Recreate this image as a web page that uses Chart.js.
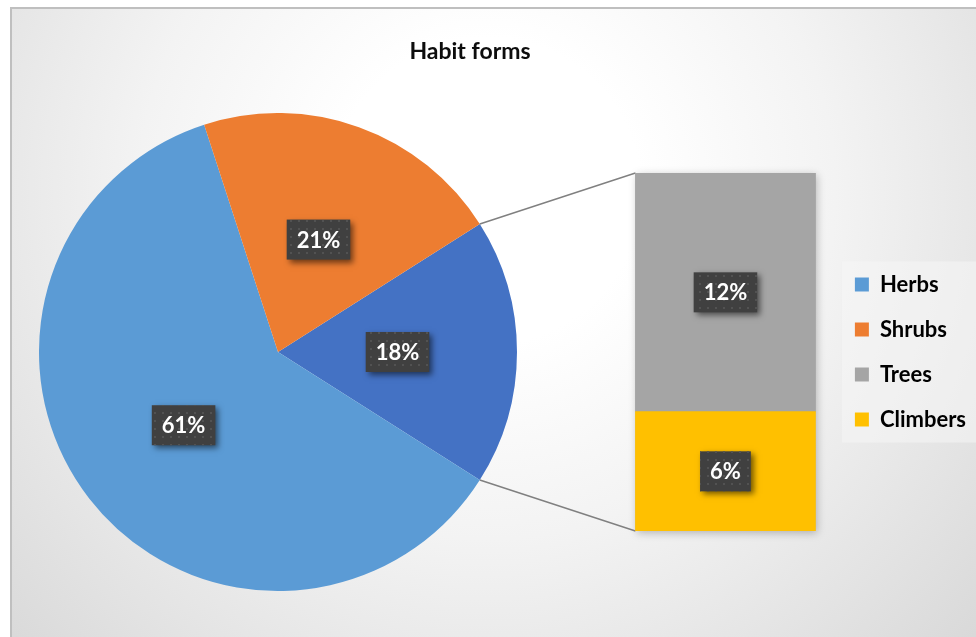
<!DOCTYPE html>
<html>
<head>
<meta charset="utf-8">
<script src="https://cdn.jsdelivr.net/npm/chart.js@4.4.1/dist/chart.umd.min.js"></script>
<style>
  html, body { margin: 0; padding: 0; background: #fff; }
  #wrap { position: relative; width: 976px; height: 637px; overflow: hidden; }
  #frame {
    position: absolute; left: 10px; top: 7px; width: 990px; height: 650px;
    border-left: 2px solid #bfbfbf; border-top: 2px solid #bfbfbf;
    background: radial-gradient(circle farthest-corner at 48% 28%, #ffffff 0%, #ffffff 22%, #f3f3f3 50%, #d6d6d6 100%);
  }
  canvas { position: absolute; }
  #pie { left: 39px; top: 113px; }
  #bar { left: 0; top: 0; }
</style>
</head>
<body>
<div id="wrap">
  <div id="frame"></div>
  <canvas id="pie" width="478" height="478"></canvas>
  <canvas id="bar" width="976" height="637"></canvas>
</div>
<script>
// values (percent)
const habitForms = ['Herbs', 'Shrubs', 'Trees', 'Climbers'];
const shares = [61, 21, 12, 6];
const colors = ['#5B9BD5', '#ED7D31', '#A5A5A5', '#FFC000'];
const otherColor = '#4472C4';

const herbs = shares[0], shrubs = shares[1], trees = shares[2], climbers = shares[3];
const otherTotal = trees + climbers;
const total = shares.reduce((a, b) => a + b, 0);

const labelFont = 'bold 22px Lato';

// dotted fill for the data label boxes
const dot = document.createElement('canvas');
dot.width = 8; dot.height = 8;
const dctx = dot.getContext('2d');
dctx.fillStyle = '#525252';
dctx.fillRect(3, 3, 2, 2);

function drawTag(ctx, text, x, y) {
  ctx.save();
  ctx.font = labelFont;
  const w = ctx.measureText(text).width + 20, h = 40;
  ctx.shadowColor = 'rgba(0,0,0,0.55)';
  ctx.shadowBlur = 6;
  ctx.shadowOffsetX = 3;
  ctx.shadowOffsetY = 3;
  ctx.fillStyle = '#404040';
  ctx.fillRect(x - w / 2, y - h / 2, w, h);
  ctx.shadowColor = 'transparent';
  ctx.fillStyle = ctx.createPattern(dot, 'repeat');
  ctx.fillRect(x - w / 2, y - h / 2, w, h);
  ctx.fillStyle = '#ffffff';
  ctx.textAlign = 'center';
  ctx.textBaseline = 'middle';
  ctx.fillText(text, x, y + 1);
  ctx.restore();
}

const pieTags = {
  id: 'pieTags',
  afterDatasetsDraw(chart) {
    const ds = chart.data.datasets[0];
    chart.getDatasetMeta(0).data.forEach((arc, i) => {
      const p = arc.tooltipPosition(true);
      drawTag(chart.ctx, ds.data[i] + '%', p.x, p.y);
    });
  }
};

const pieCanvas = document.getElementById('pie');
const pieChart = new Chart(pieCanvas, {
  type: 'pie',
  data: {
    labels: ['Other', habitForms[0], habitForms[1]],
    datasets: [{
      data: [otherTotal, herbs, shrubs],
      backgroundColor: [otherColor, colors[0], colors[1]],
      borderWidth: 0
    }]
  },
  options: {
    responsive: false,
    animation: false,
    // "Other" slice centred on the right, facing the bar
    rotation: 90 - (otherTotal / total) * 180,
    layout: { padding: 0 },
    plugins: { legend: { display: false }, title: { display: false }, tooltip: { enabled: false } }
  },
  plugins: [pieTags]
});

const barCanvas = document.getElementById('bar');

const legendBg = {
  id: 'legendBg',
  beforeDraw(chart) {
    const boxes = chart.legend.legendHitBoxes;
    if (!boxes || !boxes.length) return;
    const first = boxes[0], last = boxes[boxes.length - 1];
    const ctx = chart.ctx;
    ctx.save();
    ctx.fillStyle = 'rgba(245,245,245,0.55)';
    ctx.fillRect(first.left - 13, first.top - 12, chart.width - first.left + 13, last.top + last.height - first.top + 24);
    ctx.restore();
  }
};

const connectors = {
  id: 'connectors',
  beforeDatasetsDraw(chart) {
    const arc = pieChart.getDatasetMeta(0).data[0];
    const dx = pieCanvas.offsetLeft - barCanvas.offsetLeft;
    const dy = pieCanvas.offsetTop - barCanvas.offsetTop;
    const topBar = chart.getDatasetMeta(1).data[0];
    const lowBar = chart.getDatasetMeta(0).data[0];
    const ctx = chart.ctx;
    ctx.save();
    // soft shadow behind the stacked bar
    ctx.shadowColor = 'rgba(0,0,0,0.25)';
    ctx.shadowBlur = 8;
    ctx.shadowOffsetX = 2;
    ctx.shadowOffsetY = 2;
    ctx.fillStyle = colors[2];
    ctx.fillRect(topBar.x - topBar.width / 2, topBar.y, topBar.width, lowBar.base - topBar.y);
    ctx.shadowColor = 'transparent';
    ctx.strokeStyle = '#808080';
    ctx.lineWidth = 1.5;
    ctx.beginPath();
    ctx.moveTo(arc.x + dx + arc.outerRadius * Math.cos(arc.startAngle), arc.y + dy + arc.outerRadius * Math.sin(arc.startAngle));
    ctx.lineTo(topBar.x - topBar.width / 2, topBar.y);
    ctx.moveTo(arc.x + dx + arc.outerRadius * Math.cos(arc.endAngle), arc.y + dy + arc.outerRadius * Math.sin(arc.endAngle));
    ctx.lineTo(lowBar.x - lowBar.width / 2, lowBar.base);
    ctx.stroke();
    ctx.restore();
  }
};

const barTags = {
  id: 'barTags',
  afterDatasetsDraw(chart) {
    chart.data.datasets.forEach((ds, i) => {
      const bar = chart.getDatasetMeta(i).data[0];
      const p = bar.getCenterPoint(true);
      drawTag(chart.ctx, ds.data[0] + '%', p.x, p.y);
    });
  }
};

const barChart = new Chart(barCanvas, {
  type: 'bar',
  data: {
    labels: ['Other'],
    datasets: [
      { label: habitForms[3], data: [climbers], backgroundColor: colors[3], barThickness: 180 },
      { label: habitForms[2], data: [trees], backgroundColor: colors[2], barThickness: 180 }
    ]
  },
  options: {
    responsive: false,
    animation: false,
    layout: { padding: { left: -36, right: 0, top: 28, bottom: 106 } },
    scales: {
      x: { stacked: true, display: false },
      y: {
        stacked: true, min: 0, max: otherTotal,
        ticks: { display: false }, grid: { display: false }, border: { display: false },
        afterFit(scale) { scale.width = 655; }
      }
    },
    plugins: {
      title: {
        display: true,
        text: 'Habit forms',
        color: '#0d0d0d',
        font: { family: 'Lato', size: 23, weight: 'bold' },
        padding: { top: 10, bottom: 107.4 }
      },
      legend: {
        position: 'right',
        fullSize: false,
        align: 'center',
        labels: {
          boxWidth: 14,
          boxHeight: 14,
          padding: 23,
          color: '#000',
          font: { family: 'Lato', size: 22, weight: 'bold' },
          generateLabels: () => habitForms.map((name, i) => ({
            text: name, fillStyle: colors[i], strokeStyle: colors[i], lineWidth: 0, hidden: false, fontColor: '#000'
          }))
        }
      },
      tooltip: { enabled: false }
    }
  },
  plugins: [legendBg, connectors, barTags]
});
</script>
</body>
</html>
